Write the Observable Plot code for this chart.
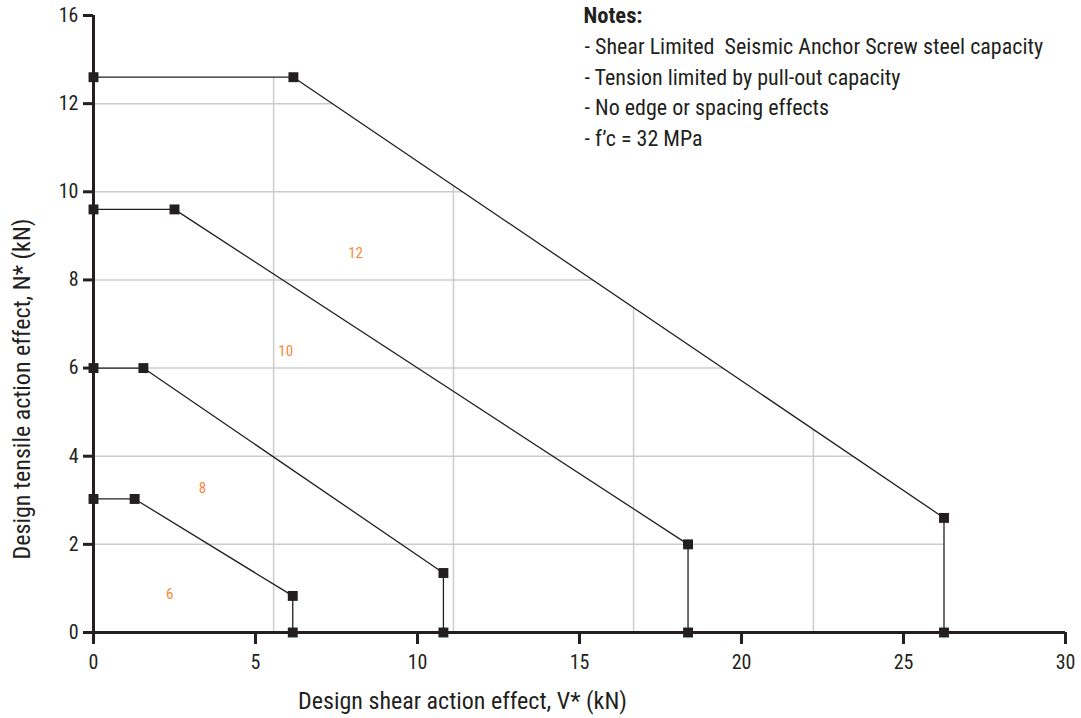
<!DOCTYPE html>
<html><head><meta charset="utf-8">
<script src="https://cdn.jsdelivr.net/npm/d3@7"></script>
<script src="https://cdn.jsdelivr.net/npm/@observablehq/plot@0.6"></script>
<style>body{margin:0;background:#fff}</style>
</head><body><div id="chart"></div>
<script>
// ---- data ----
const sizes = ["6", "8", "10", "12"];
const shearValues = [
  [0, 1.27, 6.15, 6.15],
  [0, 1.54, 10.8, 10.8],
  [0, 2.5, 18.35, 18.35],
  [0, 6.17, 26.25, 26.25]
];
const tensionValues = [
  [3.03, 3.03, 0.83, 0],
  [6.0, 6.0, 1.35, 0],
  [9.6, 9.6, 2.0, 0],
  [12.6, 12.6, 2.6, 0]
];
const labelX = [2.35, 3.36, 5.93, 8.09];
const labelY = [0.86, 3.27, 6.39, 8.61];
const xTicks = [0, 5, 10, 15, 20, 25, 30];
const yTicks = [0, 2, 4, 6, 8, 10, 12, 14];
const yTickLabels = ["0", "2", "4", "6", "8", "10", "12", "16"];
const hGrid = [2, 4, 6, 8, 10, 12];
const vGrid = [5.56, 11.11, 16.67, 22.22];
const notesTitle = "Notes:";
const notes = [
  "- Shear Limited  Seismic Anchor Screw steel capacity",
  "- Tension limited by pull-out capacity",
  "- No edge or spacing effects",
  "- f\u2019c = 32 MPa"
];
const xTitle = "Design shear action effect, V* (kN)";
const yTitle = "Design tensile action effect, N* (kN)";

// ---- build tables ----
const points = [];
sizes.forEach((s, i) => shearValues[i].forEach((v, j) => points.push({size: s, v, n: tensionValues[i][j]})));
const labels = sizes.map((s, i) => ({size: s, v: labelX[i], n: labelY[i]}));
const last = sizes.length - 1;
const envelope = shearValues[last].map((v, j) => ({v, n: tensionValues[last][j]}));
envelope.push({v: xTicks[xTicks.length - 1], n: 0});
const yLabelMap = new Map(yTicks.map((t, i) => [t, yTickLabels[i]]));

const INK = "#231f20";
const FONT = "'Roboto Condensed', 'Liberation Sans Narrow', 'Arial Narrow', 'DejaVu Sans Condensed', sans-serif";
const yTop = yTicks[yTicks.length - 1];

const chart = Plot.plot({
  width: 1081, height: 718,
  marginLeft: 93, marginRight: 16, marginTop: 15, marginBottom: 86,
  style: {fontFamily: FONT, fontSize: "20px", color: INK, background: "#fff", fontStretch: "condensed"},
  x: {domain: [0, 30]},
  y: {domain: [0, yTop]},
  marks: [
    Plot.ruleY(hGrid, {stroke: "#cccccc", strokeWidth: 1.5}),
    Plot.ruleX(vGrid, {stroke: "#cccccc", strokeWidth: 1.5}),
    Plot.areaY(envelope, {x: "v", y1: "n", y2: yTop, fill: "white"}),
    Plot.axisY({ticks: yTicks, tickFormat: d => yLabelMap.get(d), tickSize: 10, tickPadding: 5, strokeWidth: 3, stroke: INK, fill: INK, label: null}),
    Plot.axisX({ticks: xTicks, tickSize: 12, tickPadding: 10, strokeWidth: 3, stroke: INK, fill: INK, label: null}),
    Plot.ruleX([0], {y1: 0, y2: yTop, stroke: INK, strokeWidth: 3}),
    Plot.ruleY([0], {x1: 0, x2: 30, stroke: INK, strokeWidth: 3}),
    Plot.line(points, {x: "v", y: "n", z: "size", stroke: INK, strokeWidth: 1.3}),
    Plot.dot(points, {x: "v", y: "n", symbol: "square", r: 5.6, fill: INK, stroke: "none"}),
    Plot.text(labels, {x: "v", y: "n", text: "size", fill: "#f58a3a", fontSize: 15}),
    Plot.text([xTitle], {frameAnchor: "bottom", text: d => d, textAnchor: "middle", dx: -117, dy: 76, fontSize: 24, fill: INK}),
    Plot.text([yTitle], {frameAnchor: "left", text: d => d, textAnchor: "middle", lineAnchor: "middle", rotate: -90, dx: -71, dy: 65, fontSize: 24, fill: INK}),
    Plot.text([notesTitle], {frameAnchor: "top-left", text: d => d, dx: 490, dy: -8, lineAnchor: "top", textAnchor: "start", fontSize: 22.5, fontWeight: "bold", fill: INK}),
    Plot.text([notes.join("\n")], {frameAnchor: "top-left", text: d => d, dx: 491, dy: 17, lineAnchor: "top", textAnchor: "start", fontSize: 22, lineHeight: 1.39, fill: INK})
  ]
});
document.getElementById("chart").appendChild(chart);
</script>
</body></html>
